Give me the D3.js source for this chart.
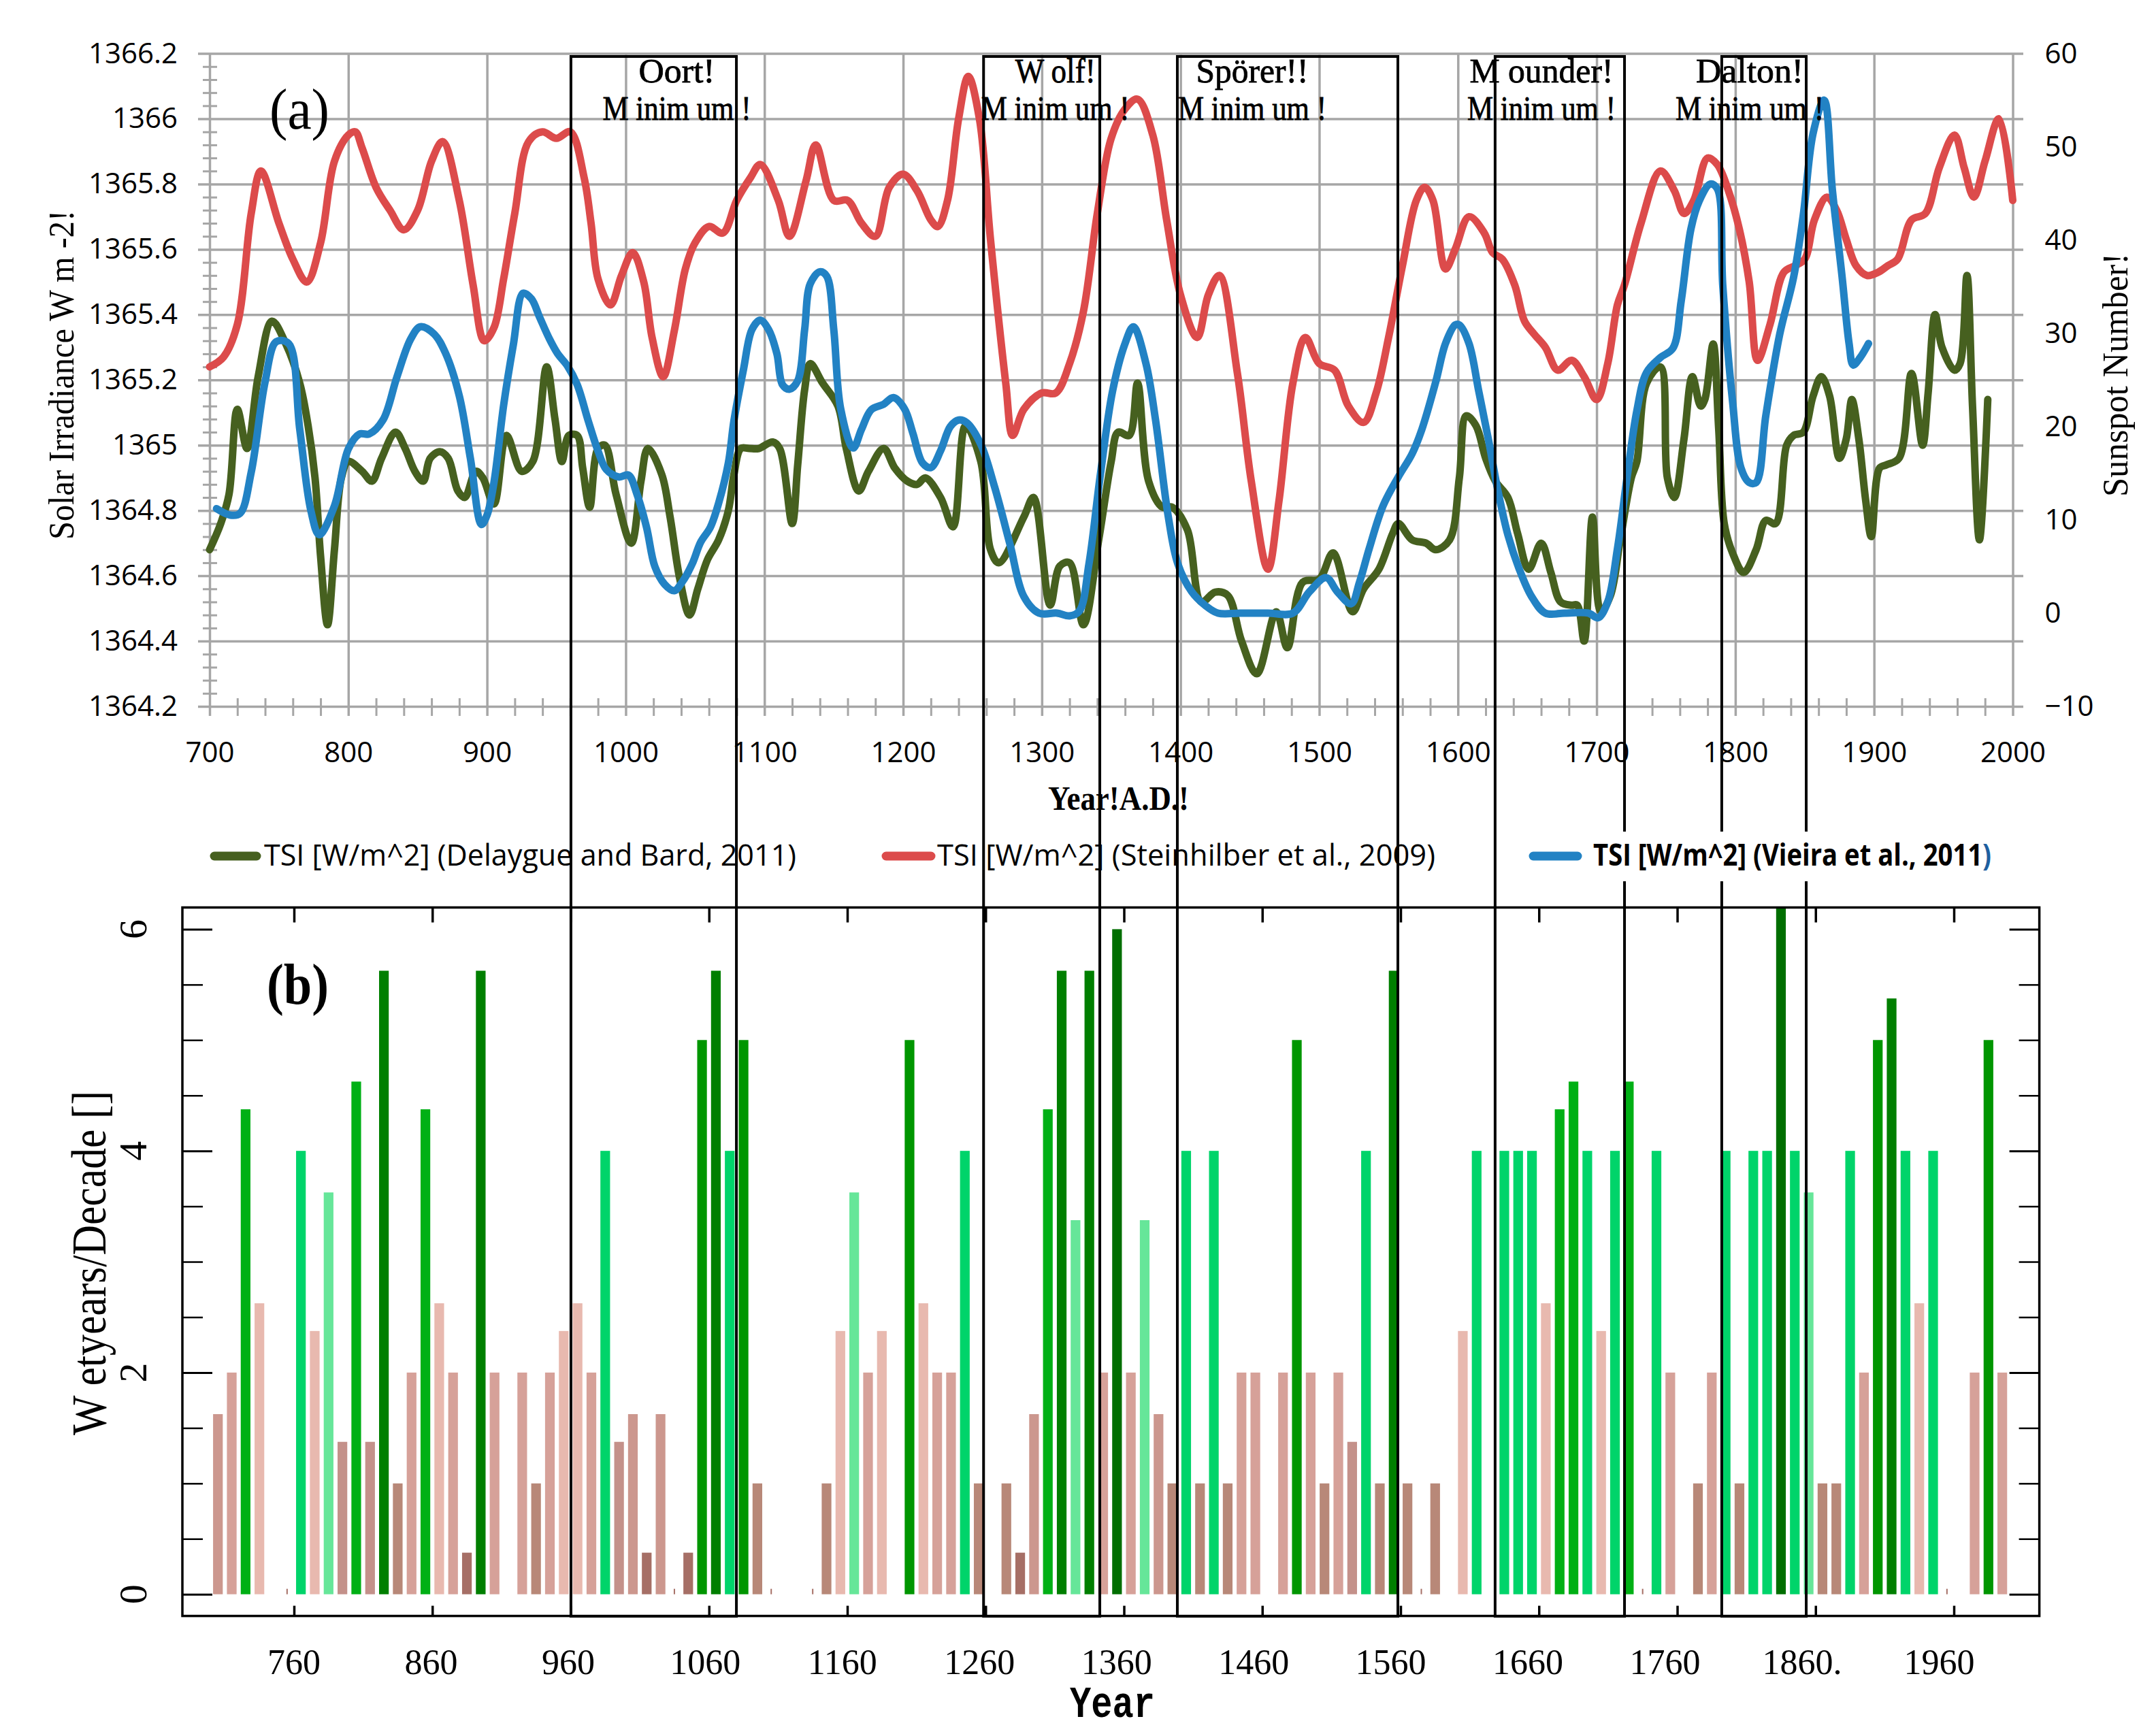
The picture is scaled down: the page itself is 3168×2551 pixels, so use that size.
<!DOCTYPE html>
<html><head><meta charset="utf-8">
<script src="https://cdn.jsdelivr.net/npm/d3@7/dist/d3.min.js"></script>
<style>body{margin:0;background:#fff}svg{display:block}</style>
</head><body>
<svg id="c" width="3168" height="2551"></svg>
<script>
// ---------------- DATA ----------------
const delaygue = [[700,1364.68],[708,1364.76],[714,1364.85],[720,1365.11],[727,1364.99],[735,1365.21],[745,1365.38],[755,1365.31],[765,1365.19],[771,1365.06],[776,1364.90],[780,1364.66],[785,1364.45],[790,1364.68],[795,1364.90],[800,1364.95],[810,1364.92],[817,1364.89],[824,1364.96],[834,1365.04],[841,1364.99],[848,1364.92],[854,1364.89],[859,1364.96],[866,1364.98],[872,1364.96],[879,1364.86],[884,1364.84],[892,1364.92],[897,1364.90],[905,1364.82],[914,1365.03],[925,1364.92],[933,1364.95],[943,1365.24],[949,1365.08],[954,1364.95],[959,1365.03],[965,1365.03],[969,1364.93],[974,1364.81],[980,1364.99],[985,1365.00],[993,1364.85],[1004,1364.70],[1011,1364.89],[1016,1364.99],[1026,1364.91],[1032,1364.78],[1039,1364.59],[1046,1364.48],[1052,1364.56],[1059,1364.65],[1067,1364.71],[1074,1364.80],[1078,1364.91],[1083,1364.99],[1089,1364.99],[1096,1364.99],[1106,1365.01],[1111,1364.99],[1120,1364.76],[1124,1364.94],[1129,1365.17],[1133,1365.25],[1142,1365.19],[1153,1365.12],[1159,1364.99],[1168,1364.86],[1175,1364.92],[1186,1364.99],[1194,1364.93],[1203,1364.89],[1210,1364.88],[1216,1364.90],[1227,1364.84],[1236,1364.75],[1245,1365.06],[1256,1364.95],[1263,1364.68],[1269,1364.64],[1287,1364.78],[1294,1364.84],[1306,1364.51],[1313,1364.63],[1320,1364.64],[1330,1364.45],[1341,1364.71],[1350,1364.95],[1355,1365.04],[1363,1365.03],[1369,1365.19],[1377,1364.89],[1387,1364.81],[1394,1364.81],[1405,1364.74],[1415,1364.52],[1425,1364.55],[1434,1364.54],[1444,1364.40],[1455,1364.30],[1469,1364.49],[1477,1364.38],[1488,1364.58],[1500,1364.59],[1510,1364.67],[1524,1364.49],[1532,1364.56],[1543,1364.62],[1553,1364.73],[1557,1364.76],[1567,1364.71],[1577,1364.70],[1584,1364.68],[1594,1364.71],[1601,1364.90],[1606,1365.09],[1613,1365.06],[1620,1364.96],[1627,1364.89],[1636,1364.84],[1643,1364.73],[1651,1364.62],[1660,1364.70],[1667,1364.61],[1674,1364.52],[1682,1364.51],[1686,1364.51],[1691,1364.40],[1697,1364.78],[1703,1364.49],[1710,1364.54],[1717,1364.71],[1725,1364.90],[1729,1364.95],[1736,1365.19],[1746,1365.24],[1751,1364.90],[1756,1364.84],[1763,1365.02],[1769,1365.21],[1775,1365.12],[1778,1365.14],[1784,1365.31],[1788,1365.05],[1792,1364.76],[1798,1364.67],[1806,1364.61],[1815,1364.68],[1822,1364.77],[1829,1364.76],[1837,1365.00],[1842,1365.03],[1849,1365.04],[1856,1365.15],[1862,1365.21],[1868,1365.15],[1875,1364.96],[1880,1365.02],[1884,1365.14],[1889,1365.02],[1894,1364.83],[1898,1364.72],[1904,1364.93],[1909,1364.94],[1918,1364.96],[1927,1365.22],[1935,1365.00],[1939,1365.16],[1944,1365.40],[1949,1365.30],[1958,1365.23],[1962,1365.25],[1967,1365.52],[1971,1365.12],[1976,1364.71],[1982,1365.14]];

const steinhilber = [[700,1365.24],[710,1365.27],[720,1365.37],[730,1365.71],[737,1365.84],[750,1365.68],[760,1365.57],[770,1365.50],[780,1365.62],[790,1365.87],[800,1365.95],[805,1365.96],[810,1365.91],[820,1365.79],[830,1365.72],[840,1365.66],[850,1365.72],[860,1365.87],[868,1365.93],[880,1365.75],[890,1365.49],[898,1365.32],[905,1365.36],[912,1365.51],[920,1365.71],[930,1365.93],[940,1365.96],[950,1365.94],[960,1365.96],[970,1365.82],[975,1365.68],[980,1365.51],[989,1365.43],[997,1365.52],[1005,1365.59],[1013,1365.50],[1019,1365.33],[1027,1365.21],[1035,1365.35],[1043,1365.54],[1050,1365.62],[1060,1365.67],[1070,1365.65],[1080,1365.75],[1090,1365.82],[1097,1365.86],[1110,1365.75],[1118,1365.64],[1130,1365.81],[1137,1365.92],[1150,1365.75],[1160,1365.75],[1170,1365.68],[1180,1365.64],[1190,1365.79],[1200,1365.83],[1210,1365.78],[1220,1365.69],[1225,1365.67],[1232,1365.75],[1240,1366.00],[1247,1366.13],[1255,1366.00],[1263,1365.63],[1274,1365.19],[1279,1365.03],[1287,1365.11],[1300,1365.16],[1310,1365.16],[1320,1365.25],[1330,1365.41],[1340,1365.71],[1350,1365.94],[1360,1366.03],[1369,1366.06],[1380,1365.95],[1390,1365.69],[1400,1365.46],[1412,1365.33],[1420,1365.46],[1428,1365.52],[1441,1365.22],[1451,1364.89],[1463,1364.62],[1471,1364.83],[1481,1365.19],[1490,1365.33],[1500,1365.25],[1511,1365.23],[1521,1365.12],[1532,1365.07],[1541,1365.16],[1550,1365.33],[1560,1365.55],[1570,1365.75],[1576,1365.79],[1582,1365.75],[1591,1365.54],[1598,1365.60],[1608,1365.70],[1619,1365.65],[1625,1365.59],[1632,1365.57],[1641,1365.49],[1648,1365.38],[1655,1365.34],[1663,1365.30],[1672,1365.23],[1682,1365.26],[1691,1365.21],[1700,1365.14],[1708,1365.25],[1715,1365.43],[1720,1365.49],[1732,1365.68],[1746,1365.84],[1756,1365.78],[1763,1365.71],[1770,1365.75],[1780,1365.88],[1787,1365.86],[1795,1365.78],[1803,1365.66],[1810,1365.50],[1816,1365.26],[1825,1365.37],[1835,1365.53],[1843,1365.55],[1850,1365.57],[1857,1365.69],[1866,1365.76],[1873,1365.72],[1880,1365.63],[1887,1365.55],[1895,1365.52],[1903,1365.53],[1910,1365.55],[1917,1365.57],[1927,1365.69],[1937,1365.71],[1947,1365.85],[1958,1365.95],[1965,1365.85],[1972,1365.76],[1980,1365.87],[1990,1366.00],[2000,1365.75]];

const vieira = [[705,11.2],[715,10.5],[722,10.7],[730,15.1],[740,24.8],[748,29.1],[757,28.9],[765,19.7],[773,11.0],[779,8.4],[790,11.5],[800,17.6],[808,19.2],[815,19.2],[825,20.7],[835,25.3],[845,29.4],[852,30.7],[862,29.9],[870,27.9],[880,23.3],[888,16.6],[896,9.5],[900,10.5],[905,14.0],[912,22.3],[919,28.8],[926,34.3],[932,33.7],[938,31.7],[945,29.4],[951,27.8],[958,26.5],[965,24.5],[973,20.6],[980,17.4],[986,15.4],[995,14.6],[1002,14.8],[1008,12.8],[1015,9.2],[1021,5.0],[1028,3.1],[1035,2.4],[1041,3.4],[1048,5.3],[1054,7.6],[1061,9.2],[1067,11.8],[1074,16.1],[1078,20.6],[1085,26.2],[1091,30.4],[1097,31.4],[1103,30.4],[1109,27.8],[1113,24.5],[1118,24.0],[1124,24.9],[1129,30.4],[1133,35.3],[1140,36.6],[1145,36.1],[1150,30.4],[1155,21.9],[1164,17.7],[1170,19.7],[1177,21.8],[1186,22.4],[1193,23.1],[1201,21.9],[1207,19.3],[1214,16.1],[1220,15.6],[1227,17.4],[1234,20.0],[1240,20.7],[1246,20.4],[1256,18.1],[1266,13.5],[1277,7.4],[1287,1.8],[1298,0],[1311,0],[1320,-0.3],[1327,0.2],[1334,5.3],[1342,14.6],[1351,23.8],[1360,28.9],[1366,30.7],[1375,26.8],[1382,20.7],[1391,10.5],[1398,5.3],[1408,2.3],[1418,0.8],[1427,0],[1443,0],[1463,0],[1481,0],[1493,2.3],[1505,3.8],[1513,2.3],[1523,1.0],[1529,3.3],[1536,6.9],[1546,11.5],[1557,14.6],[1567,17.1],[1574,19.7],[1584,24.8],[1591,28.9],[1598,30.9],[1601,30.9],[1608,28.9],[1615,23.8],[1622,18.6],[1629,13.0],[1636,8.4],[1644,4.8],[1653,1.8],[1663,0],[1677,0],[1694,0],[1701,-0.5],[1708,1.2],[1715,6.9],[1722,14.6],[1729,21.7],[1736,25.8],[1746,27.4],[1755,28.4],[1761,33.5],[1768,41.2],[1774,44.2],[1782,46.0],[1787,45.5],[1791,35.0],[1798,22.7],[1804,15.6],[1810,14.0],[1815,14.0],[1822,21.2],[1832,29.9],[1842,36.0],[1849,42.7],[1856,51.4],[1864,55.0],[1870,45.3],[1877,36.0],[1882,28.9],[1885,26.6],[1890,27.4],[1896,28.9]];

const barYears  = [705,715,725,735,745,755,765,775,785,795,805,815,825,835,845,855,865,875,885,895,905,915,925,935,945,955,965,975,985,995,1005,1015,1025,1035,1045,1055,1065,1075,1085,1095,1105,1115,1125,1135,1145,1155,1165,1175,1185,1195,1205,1215,1225,1235,1245,1255,1265,1275,1285,1295,1305,1315,1325,1335,1345,1355,1365,1375,1385,1395,1405,1415,1425,1435,1445,1455,1465,1475,1485,1495,1505,1515,1525,1535,1545,1555,1565,1575,1585,1595,1605,1615,1625,1635,1645,1655,1665,1675,1685,1695,1705,1715,1725,1735,1745,1755,1765,1775,1785,1795,1805,1815,1825,1835,1845,1855,1865,1875,1885,1895,1905,1915,1925,1935,1945,1955,1965,1975,1985,1995];
const barValues = [1.625,2,4.375,2.625,null,0,4,2.375,3.625,1.375,4.625,1.375,5.625,1,2,4.375,2.625,2,0.375,5.625,2,null,2,1,2,2.375,2.625,2,4,1.375,1.625,0.375,1.625,0,0.375,5,5.625,4,5,1,0,null,null,0,1,2.375,3.625,2,2.375,null,5,2.625,2,2,4,1,null,1,0.375,1.625,4.375,5.625,3.375,5.625,2,6,2,3.375,1.625,1,4,1,4,1,2,2,null,2,5,2,1,2,1.375,4,1,5.625,1,0,1,null,2.375,4,null,4,4,4,2.625,4.375,4.625,4,2.375,4,4.625,0,4,2,null,1,2,4,1,4,4,6.2,4,3.625,1,1,4,2,5,5.375,4,2.625,4,0,null,2,5,2];

const minimaStart = [960.5, 1258, 1397.7, 1626.8, 1790.2];
const minimaEnd   = [1079.8, 1341.8, 1556.7, 1720.1, 1851.1];
const minimaTitle = ["Oort!", "W olf!", "Spörer!!", "M ounder!", "Dalton!"];
const minimaSub   = "M inim um !";

const leftTicks  = [1364.2,1364.4,1364.6,1364.8,1365,1365.2,1365.4,1365.6,1365.8,1366,1366.2];
const rightTicks = [-10,0,10,20,30,40,50,60];
const topXTicks  = [700,800,900,1000,1100,1200,1300,1400,1500,1600,1700,1800,1900,2000];
const botXTicks  = [760,860,960,1060,1160,1260,1360,1460,1560,1660,1760,1860,1960];
const botXLabels = ["760","860","960","1060","1160","1260","1360","1460","1560","1660","1760","1860.","1960"];
const botYTicks  = [0,2,4,6];

const legendLabels = ["TSI [W/m^2] (Delaygue and Bard, 2011)", "TSI [W/m^2] (Steinhilber et al., 2009)", "TSI [W/m^2] (Vieira et al., 2011)"];

// ---------------- DRAW ----------------
const svg = d3.select('#c');
svg.append('rect').attr('width',3168).attr('height',2551).attr('fill','#fff');
const GRID = '#a6a6a6';
const SANS = "'Open Sans', sans-serif";
const SERIF = "'Liberation Serif', 'DejaVu Serif', serif";
const MONO = "'Liberation Mono', 'DejaVu Sans Mono', monospace";

const xT = d3.scaleLinear().domain([700,2000]).range([308,2957.5]);
const yL = d3.scaleLinear().domain([1364.2,1366.2]).range([1038,78.6]);
const yR = d3.scaleLinear().domain([-10,60]).range([1038,78.6]);
const xB = d3.scaleLinear().domain([760,1960]).range([432,2871]);
const yB = d3.scaleLinear().domain([0,6]).range([2342.7,1365.4]);

function styleAxis(g, color, width){
  g.select('.domain').remove();
  g.selectAll('.tick line').attr('stroke',color).attr('stroke-width',width);
}

// horizontal gridlines + left labels
const gL = svg.append('g').attr('transform','translate(291,0)')
  .call(d3.axisLeft(yL).tickValues(leftTicks).tickSize(-(2973-291)).tickPadding(30).tickFormat(d=>String(+d.toFixed(1))));
styleAxis(gL, GRID, 3.5);
gL.selectAll('text').attr('font-family',SANS).attr('font-size',42).attr('fill','#000');

// vertical gridlines + bottom labels
const gX = svg.append('g').attr('transform','translate(0,1052)')
  .call(d3.axisBottom(xT).tickValues(topXTicks).tickSize(-(1052-78.6)).tickPadding(38).tickFormat(d3.format('d')));
styleAxis(gX, GRID, 3.5);
gX.selectAll('text').attr('font-family',SANS).attr('font-size',42).attr('fill','#000');

// minor ticks
const minorY = d3.range(0,51).map(i=>1364.2+i*0.04).filter((v,i)=>i%5!==0);
const gmY = svg.append('g').attr('transform','translate(298,0)')
  .call(d3.axisLeft(yL).tickValues(minorY).tickSize(-21).tickFormat(''));
styleAxis(gmY, GRID, 3);
const minorX = d3.range(700,2001,20).filter(v=>v%100!==0);
const gmX = svg.append('g').attr('transform','translate(0,1052)')
  .call(d3.axisBottom(xT).tickValues(minorX).tickSize(-26).tickFormat(''));
styleAxis(gmX, GRID, 3);

// right axis labels
const gR = svg.append('g').attr('transform','translate(2957.5,0)')
  .call(d3.axisRight(yR).tickValues(rightTicks).tickSize(0).tickPadding(47));
gR.select('.domain').remove();
gR.selectAll('text').attr('font-family',SANS).attr('font-size',42).attr('fill','#000');

// series
const lineL = d3.line().x(d=>xT(d[0])).y(d=>yL(d[1])).curve(d3.curveCatmullRom.alpha(0.5));
const lineR = d3.line().x(d=>xT(d[0])).y(d=>yR(d[1])).curve(d3.curveCatmullRom.alpha(0.5));
const GREEN='#46601f', RED='#dc4b4b', BLUE='#2282c4';
svg.append('path').attr('d',lineL(delaygue)).attr('fill','none').attr('stroke',GREEN).attr('stroke-width',11).attr('stroke-linejoin','round').attr('stroke-linecap','round');
svg.append('path').attr('d',lineL(steinhilber)).attr('fill','none').attr('stroke',RED).attr('stroke-width',11).attr('stroke-linejoin','round').attr('stroke-linecap','round');
svg.append('path').attr('d',lineR(vieira)).attr('fill','none').attr('stroke',BLUE).attr('stroke-width',11).attr('stroke-linejoin','round').attr('stroke-linecap','round');

// (a)
svg.append('text').attr('x',396).attr('y',189).attr('font-family',SERIF).attr('font-size',84)
  .attr('textLength',88).attr('lengthAdjust','spacingAndGlyphs').text('(a)');

// axis titles top
svg.append('text').attr('transform','translate(108,551) rotate(-90)').attr('text-anchor','middle')
  .attr('font-family',SERIF).attr('font-size',52).attr('textLength',484).attr('lengthAdjust','spacingAndGlyphs')
  .text('Solar Irradiance W m -2!');
svg.append('text').attr('transform','translate(3126,551) rotate(-90)').attr('text-anchor','middle')
  .attr('font-family',SERIF).attr('font-size',52).attr('textLength',358).attr('lengthAdjust','spacingAndGlyphs')
  .text('Sunspot Number!');
svg.append('text').attr('x',1540).attr('y',1190).attr('font-family',SERIF).attr('font-weight','bold').attr('font-size',50)
  .attr('textLength',207).attr('lengthAdjust','spacingAndGlyphs').text('Year!A.D.!');

// legend (green, red)
const legY = 1258;
svg.append('line').attr('x1',315).attr('x2',377).attr('y1',legY).attr('y2',legY).attr('stroke',GREEN).attr('stroke-width',13).attr('stroke-linecap','round');
svg.append('text').attr('x',388).attr('y',1272).attr('font-family',SANS).attr('font-size',44)
  .attr('textLength',782).attr('lengthAdjust','spacingAndGlyphs').text(legendLabels[0]);
svg.append('line').attr('x1',1302).attr('x2',1368).attr('y1',legY).attr('y2',legY).attr('stroke',RED).attr('stroke-width',13).attr('stroke-linecap','round');
svg.append('text').attr('x',1377).attr('y',1272).attr('font-family',SANS).attr('font-size',44)
  .attr('textLength',732).attr('lengthAdjust','spacingAndGlyphs').text(legendLabels[1]);

// ---------------- bottom panel ----------------
const bx0=268, bx1=2996.6, by0=1333.5, by1=2374.6;

// bars
const barColor = d3.scaleThreshold()
  .domain([0.7,1.2,1.5,1.8,2.2,3,3.8,4.2,4.8,5.2,5.8])
  .range(['#a66f66','#b88878','#c4918a','#cc978e','#d6a199','#e8b9af','#66e699','#00d46a','#00b015','#009600','#007f00','#006e00']);
const bw = (xB(770)-xB(760))*0.7;
const bars = barYears.map((y,i)=>({y, v:barValues[i]})).filter(d=>d.v!==null);
svg.append('g').selectAll('rect').data(bars).join('rect')
  .attr('x',d=> d.v>0 ? xB(d.y)-bw/2 : xB(d.y)-1)
  .attr('width',d=> d.v>0 ? bw : 2)
  .attr('y',d=> d.v>0 ? yB(d.v) : yB(0)-8)
  .attr('height',d=> d.v>0 ? yB(0)-yB(d.v) : 8)
  .attr('fill',d=>barColor(d.v));

// border
svg.append('rect').attr('x',bx0).attr('y',by0).attr('width',bx1-bx0).attr('height',by1-by0)
  .attr('fill','none').attr('stroke','#000').attr('stroke-width',3.5);

// y ticks both sides
const minorB = d3.range(0,13).map(i=>i*0.5).filter(v=>v%2!==0);
[[bx0, d3.axisRight],[bx1, d3.axisLeft]].forEach(([x, ax])=>{
  const g1 = svg.append('g').attr('transform',`translate(${x},0)`).call(ax(yB).tickValues(botYTicks).tickSize(44).tickFormat(''));
  styleAxis(g1,'#000',3);
  const g2 = svg.append('g').attr('transform',`translate(${x},0)`).call(ax(yB).tickValues(minorB).tickSize(30).tickFormat(''));
  styleAxis(g2,'#000',2.5);
});
// x ticks top & bottom
const gbx1 = svg.append('g').attr('transform',`translate(0,${by1})`).call(d3.axisBottom(xB).tickValues(botXTicks).tickSize(-15).tickFormat(''));
styleAxis(gbx1,'#000',3.5);
const gbx2 = svg.append('g').attr('transform',`translate(0,${by0})`).call(d3.axisTop(xB).tickValues(botXTicks).tickSize(-22).tickFormat(''));
styleAxis(gbx2,'#000',3.5);

// x labels
svg.append('g').selectAll('text').data(botXTicks).join('text')
  .attr('x',(d)=>xB(d)-(d-760)*0.018).attr('y',2460).attr('text-anchor','middle')
  .attr('font-family',SERIF).attr('font-size',52).attr('fill','#000')
  .text((d,i)=>botXLabels[i]);
// y labels rotated
svg.append('g').selectAll('text').data(botYTicks).join('text')
  .attr('transform',d=>`translate(215,${yB(d)}) rotate(-90)`).attr('text-anchor','middle')
  .attr('font-family',SERIF).attr('font-size',58).attr('fill','#000').text(d=>d);
svg.append('text').attr('transform','translate(155,1856) rotate(-90)').attr('text-anchor','middle')
  .attr('font-family',SERIF).attr('font-size',72).attr('textLength',506).attr('lengthAdjust','spacingAndGlyphs')
  .text('W etyears/Decade []');
svg.append('text').attr('x',1572).attr('y',2523).attr('font-family',MONO).attr('font-weight','bold').attr('font-size',64)
  .attr('textLength',125).attr('lengthAdjust','spacingAndGlyphs').text('Year');
svg.append('text').attr('x',392).attr('y',1475).attr('font-family',SERIF).attr('font-weight','bold').attr('font-size',84)
  .attr('textLength',91).attr('lengthAdjust','spacingAndGlyphs').text('(b)');

// minima boxes spanning both panels
svg.append('g').selectAll('rect').data(minimaStart).join('rect')
  .attr('x',(d)=>xT(d)).attr('y',83).attr('width',(d,i)=>xT(minimaEnd[i])-xT(d)).attr('height',2375-83)
  .attr('fill','none').attr('stroke','#000').attr('stroke-width',4);

// minima labels
const labOff = [34,20,-52,-27,-21];
const titleLen = [112,118,165,211,158];
minimaStart.forEach((s,i)=>{
  const cx = (xT(s)+xT(minimaEnd[i]))/2 + labOff[i];
  svg.append('text').attr('x',cx).attr('y',121).attr('text-anchor','middle').attr('font-family',SERIF).attr('font-size',50)
    .attr('stroke','#000').attr('stroke-width',0.8)
    .attr('textLength',titleLen[i]).attr('lengthAdjust','spacingAndGlyphs').text(minimaTitle[i]);
  svg.append('text').attr('x',cx).attr('y',176).attr('text-anchor','middle').attr('font-family',SERIF).attr('font-size',50)
    .attr('stroke','#000').attr('stroke-width',0.8)
    .attr('textLength',218).attr('lengthAdjust','spacingAndGlyphs').text(minimaSub);
});

// blue legend (with white background, on top of box lines); last ")" tinted blue via gradient
const defs = svg.append('defs');
const lg = defs.append('linearGradient').attr('id','blueParen').attr('gradientUnits','userSpaceOnUse')
  .attr('x1',2341).attr('x2',2926).attr('y1',0).attr('y2',0);
lg.append('stop').attr('offset',0).attr('stop-color','#000');
lg.append('stop').attr('offset',0.972).attr('stop-color','#000');
lg.append('stop').attr('offset',0.972).attr('stop-color','#1f5f9f');
lg.append('stop').attr('offset',1).attr('stop-color','#1f5f9f');
svg.append('rect').attr('x',2236).attr('y',1222).attr('width',705).attr('height',73).attr('fill','#fff');
svg.append('line').attr('x1',2253).attr('x2',2318).attr('y1',legY).attr('y2',legY).attr('stroke',BLUE).attr('stroke-width',13).attr('stroke-linecap','round');
svg.append('text').attr('x',2341).attr('y',1272).attr('font-family',SANS).attr('font-weight','bold').attr('font-size',44)
  .attr('fill','url(#blueParen)')
  .attr('textLength',585).attr('lengthAdjust','spacingAndGlyphs').text(legendLabels[2]);
</script>
</body></html>
